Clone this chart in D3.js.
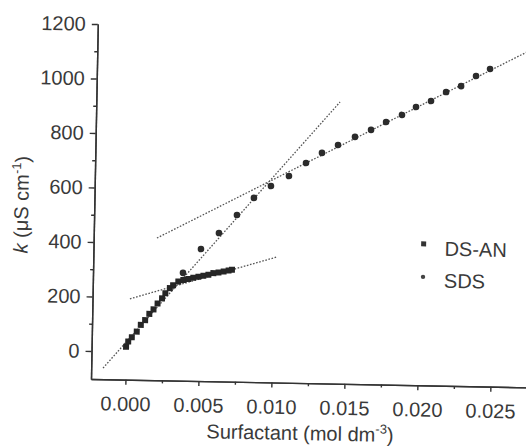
<!DOCTYPE html>
<html>
<head>
<meta charset="utf-8">
<script src="https://cdn.jsdelivr.net/npm/d3@7"></script>
<style>
  body { margin: 0; background: #fff; }
  text { font-family: "Liberation Sans", Arial, sans-serif; fill: #3a3a3a; }
  .axis path, .axis line { stroke: #333; stroke-width: 1.4; }
  .axis text { font-size: 20px; fill: #3a3a3a; }
</style>
</head>
<body>
<svg class="chart"></svg>
<script>
// DS-AN (squares)
var dsanX = [0.0000, 0.00014, 0.00038, 0.00071, 0.00098, 0.00127, 0.00155, 0.00183, 0.0021, 0.0024, 0.00262, 0.00292, 0.00314,
             0.00349, 0.00383, 0.00417, 0.00451, 0.00486, 0.0052, 0.00554, 0.00588, 0.00623, 0.00658, 0.00692, 0.00715];
var dsanY = [18, 37, 53, 74, 99, 117, 140, 157, 179, 198, 217, 236, 247,
             261, 267, 271, 276, 280, 284, 288, 294, 297, 301, 305, 308];

// SDS (circles)
var sdsX = [0.0038, 0.0050, 0.00621, 0.00742, 0.00856, 0.00971, 0.01093, 0.01208, 0.01316, 0.01425,
            0.0154, 0.01649, 0.01751, 0.01859, 0.01954, 0.02056, 0.02158, 0.0226, 0.02361, 0.02456];
var sdsY = [293, 382, 442, 509, 573, 618, 656, 705, 743, 773,
            804, 831, 861, 888, 918, 941, 975, 998, 1036, 1063];

// dotted fit lines: [x1, y1, x2, y2]
var fitLines = [
  [-0.00155, -62, 0.01433, 931],
  [0.00197, 419, 0.0275, 1140],
  [0.0002, 194, 0.01022, 358]
];

var xTicks = [0, 0.005, 0.010, 0.015, 0.020, 0.025];
var xMinor = [0.0025, 0.0075, 0.0125, 0.0175, 0.0225, 0.0275];
var yTicks = [0, 200, 400, 600, 800, 1000, 1200];
var yMinor = [100, 300, 500, 700, 900, 1100];

var legendNames = ['DS-AN', 'SDS'];

var width = 526, height = 448;

var svg = d3.select(".chart")
    .attr("width", width)
    .attr("height", height);

// the scanned figure is tilted slightly clockwise
var chart = svg.append("g")
    .attr("transform", "rotate(1.1, 91, 379)");

var x = d3.scaleLinear()
    .domain([-0.00236, 0.028])
    .range([91, 91 + (0.028 + 0.00236) * 14600]);

var y = d3.scaleLinear()
    .domain([-103, 1200])
    .range([379, 24]);

// axes
chart.append("g")
    .attr("class", "axis")
    .attr("transform", "translate(0,379)")
    .call(d3.axisBottom(x).tickValues(xTicks).tickFormat(d3.format(".3f"))
        .tickSize(5).tickSizeOuter(0).tickPadding(12));

chart.append("g")
    .attr("class", "axis")
    .attr("transform", "translate(0,379)")
    .call(d3.axisBottom(x).tickValues(xMinor).tickFormat("").tickSize(3).tickSizeOuter(0));

chart.append("g")
    .attr("class", "axis")
    .attr("transform", "translate(91,0)")
    .call(d3.axisLeft(y).tickValues(yTicks).tickFormat(d3.format("d"))
        .tickSize(6).tickSizeOuter(0).tickPadding(6));

chart.append("g")
    .attr("class", "axis")
    .attr("transform", "translate(91,0)")
    .call(d3.axisLeft(y).tickValues(yMinor).tickFormat("").tickSize(3).tickSizeOuter(0));

chart.selectAll(".axis .domain").attr("stroke", "#333");

// fit lines
chart.selectAll("line.fit")
    .data(fitLines)
  .enter().append("line")
    .attr("class", "fit")
    .attr("x1", function(d) { return x(d[0]); })
    .attr("y1", function(d) { return y(d[1]); })
    .attr("x2", function(d) { return x(d[2]); })
    .attr("y2", function(d) { return y(d[3]); })
    .attr("stroke", "#555")
    .attr("stroke-width", 1.3)
    .attr("stroke-dasharray", "1.6,1.6");

// DS-AN squares
var sq = 6;
chart.selectAll("rect.dsan")
    .data(dsanX)
  .enter().append("rect")
    .attr("class", "dsan")
    .attr("x", function(d) { return x(d) - sq / 2; })
    .attr("y", function(d, i) { return y(dsanY[i]) - sq / 2; })
    .attr("width", sq)
    .attr("height", sq)
    .attr("fill", "#262626");

// SDS circles
chart.selectAll("circle.sds")
    .data(sdsX)
  .enter().append("circle")
    .attr("class", "sds")
    .attr("cx", function(d) { return x(d); })
    .attr("cy", function(d, i) { return y(sdsY[i]); })
    .attr("r", 3.3)
    .attr("fill", "#2b2b2b");

// legend
var legend = chart.append("g").attr("transform", "translate(421,0)");
legend.append("rect")
    .attr("x", -2.5).attr("y", 235)
    .attr("width", 5).attr("height", 5)
    .attr("fill", "#333");
legend.append("circle")
    .attr("cx", 0).attr("cy", 270.5).attr("r", 2.2)
    .attr("fill", "#444");
legend.selectAll("text")
    .data(legendNames)
  .enter().append("text")
    .attr("x", 21)
    .attr("y", function(d, i) { return i == 0 ? 249 : 281; })
    .attr("font-size", 20)
    .text(function(d) { return d; });

// axis titles
var xt = chart.append("text")
    .attr("x", 301)
    .attr("y", 436)
    .attr("text-anchor", "middle")
    .attr("font-size", 20);
xt.append("tspan").text("Surfactant (mol dm");
xt.append("tspan").attr("font-size", 13).attr("dy", -8).text("-3");
xt.append("tspan").attr("dy", 8).text(")");

var yt = chart.append("text")
    .attr("transform", "translate(25,206) rotate(-90)")
    .attr("text-anchor", "middle")
    .attr("font-size", 20);
yt.append("tspan").attr("font-style", "italic").text("k");
yt.append("tspan").text(" (\u03bcS cm");
yt.append("tspan").attr("font-size", 13).attr("dy", -8).text("-1");
yt.append("tspan").attr("dy", 8).text(")");
</script>
</body>
</html>
